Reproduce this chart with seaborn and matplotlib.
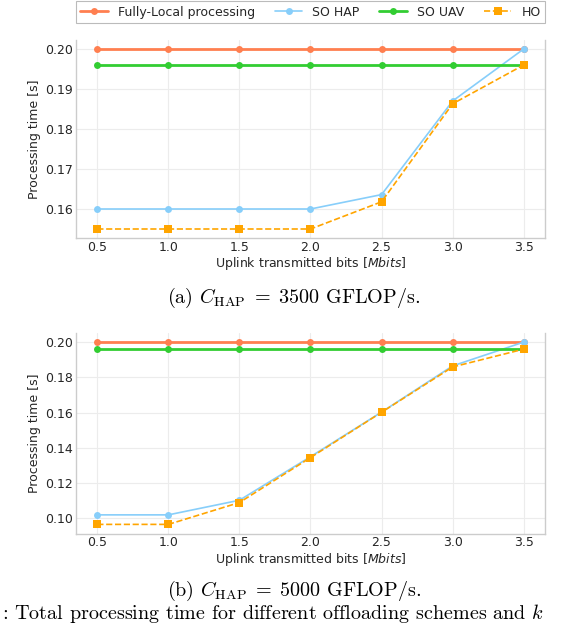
import numpy as np
import pandas as pd
import matplotlib
matplotlib.use("Agg")
import matplotlib.pyplot as plt
import seaborn as sns

# ---- data ----
bits = [0.5, 1.0, 1.5, 2.0, 2.5, 3.0, 3.5]
series_names = ["Fully-Local processing", "SO HAP", "SO UAV", "HO"]

# (a) C_HAP = 3500 GFLOP/s
local_a = [0.200, 0.200, 0.200, 0.200, 0.200, 0.200, 0.200]
so_hap_a = [0.160, 0.160, 0.160, 0.160, 0.1636, 0.187, 0.200]
so_uav_a = [0.196, 0.196, 0.196, 0.196, 0.196, 0.196, 0.196]
ho_a = [0.155, 0.155, 0.155, 0.155, 0.1618, 0.1863, 0.196]

# (b) C_HAP = 5000 GFLOP/s
local_b = [0.200, 0.200, 0.200, 0.200, 0.200, 0.200, 0.200]
so_hap_b = [0.102, 0.102, 0.1103, 0.135, 0.1603, 0.1865, 0.200]
so_uav_b = [0.196, 0.196, 0.196, 0.196, 0.196, 0.196, 0.196]
ho_b = [0.0966, 0.0966, 0.109, 0.1345, 0.1602, 0.1859, 0.196]

captions = ["(a) $C_{\\mathrm{HAP}}\\;=\\;3500$ GFLOP/s.",
            "(b) $C_{\\mathrm{HAP}}\\;=\\;5000$ GFLOP/s."]
bottom_text = ": Total processing time for different offloading schemes and $k$"

sns.set_theme(style="whitegrid")
plt.rcParams["font.family"] = ["DejaVu Sans"]

styles = {
    "Fully-Local processing": dict(color="#FF7F50", marker="o", linestyle="-", linewidth=2.0, markersize=5),
    "SO HAP": dict(color="#87CEFA", marker="o", linestyle="-", linewidth=1.2, markersize=5),
    "SO UAV": dict(color="#32CD32", marker="o", linestyle="-", linewidth=2.0, markersize=5),
    "HO": dict(color="#FFA500", marker="s", linestyle="--", linewidth=1.2, markersize=5.5),
}

W, H = 568, 626
fig = plt.figure(figsize=(W / 100, H / 100), dpi=100)

def px_axes(left, top, right, bottom):
    return fig.add_axes([left / W, (H - bottom) / H, (right - left) / W, (bottom - top) / H])

ax1 = px_axes(76, 40, 545, 238)
ax2 = px_axes(76, 333, 545, 533.5)

datasets = [
    (ax1, [local_a, so_hap_a, so_uav_a, ho_a], [0.16, 0.17, 0.18, 0.19, 0.20]),
    (ax2, [local_b, so_hap_b, so_uav_b, ho_b], [0.10, 0.12, 0.14, 0.16, 0.18, 0.20]),
]

for ax, vals, yt in datasets:
    for name, v in zip(series_names, vals):
        st = styles[name]
        sns.lineplot(x=bits, y=v, ax=ax, label=name, color=st["color"], marker=st["marker"],
                     linestyle=st["linestyle"], linewidth=st["linewidth"], markersize=st["markersize"],
                     markeredgewidth=0, legend=False)
    ax.set_xticks(bits)
    ax.set_yticks(yt)
    ax.set_yticklabels([f"{t:.2f}" for t in yt])
    ax.set_xticklabels([f"{b:.1f}" for b in bits])
    ax.tick_params(axis="both", labelsize=9, pad=2, colors="#262626", length=0)
    ax.grid(True, color="#ececec", linewidth=0.8)
    ax.spines["top"].set_visible(False)
    for s in ["left", "bottom", "right"]:
        ax.spines[s].set_color("#cccccc")
        ax.spines[s].set_linewidth(1.0)
    ax.set_xlabel("Uplink transmitted bits [$Mbits$]", fontsize=9, labelpad=1, color="#262626")
    ax.set_ylabel("Processing time [s]", fontsize=9, labelpad=3, color="#262626")
    ax.set_facecolor("white")

handles, labels = ax1.get_legend_handles_labels()
leg = fig.legend(handles, labels, loc="lower left", ncol=4, mode="expand",
                 bbox_to_anchor=(76 / W, (H - 23) / H, 469 / W, 21 / H),
                 borderaxespad=0, fontsize=9, frameon=True, fancybox=False,
                 handlelength=2.2, handletextpad=0.8, borderpad=0.35)
leg.get_frame().set_edgecolor("#aaaaaa")
leg.get_frame().set_linewidth(0.8)

cap_kw = dict(fontsize=14.5, family="cmr10", math_fontfamily="cm", color="black")
fig.text(294 / W, (H - 303) / H, captions[0], ha="center", va="baseline", **cap_kw)
fig.text(294 / W, (H - 596) / H, captions[1], ha="center", va="baseline", **cap_kw)
fig.text(2 / W, 1 / H, bottom_text, ha="left", va="bottom", **cap_kw)

fig.savefig("out.png", dpi=100)
